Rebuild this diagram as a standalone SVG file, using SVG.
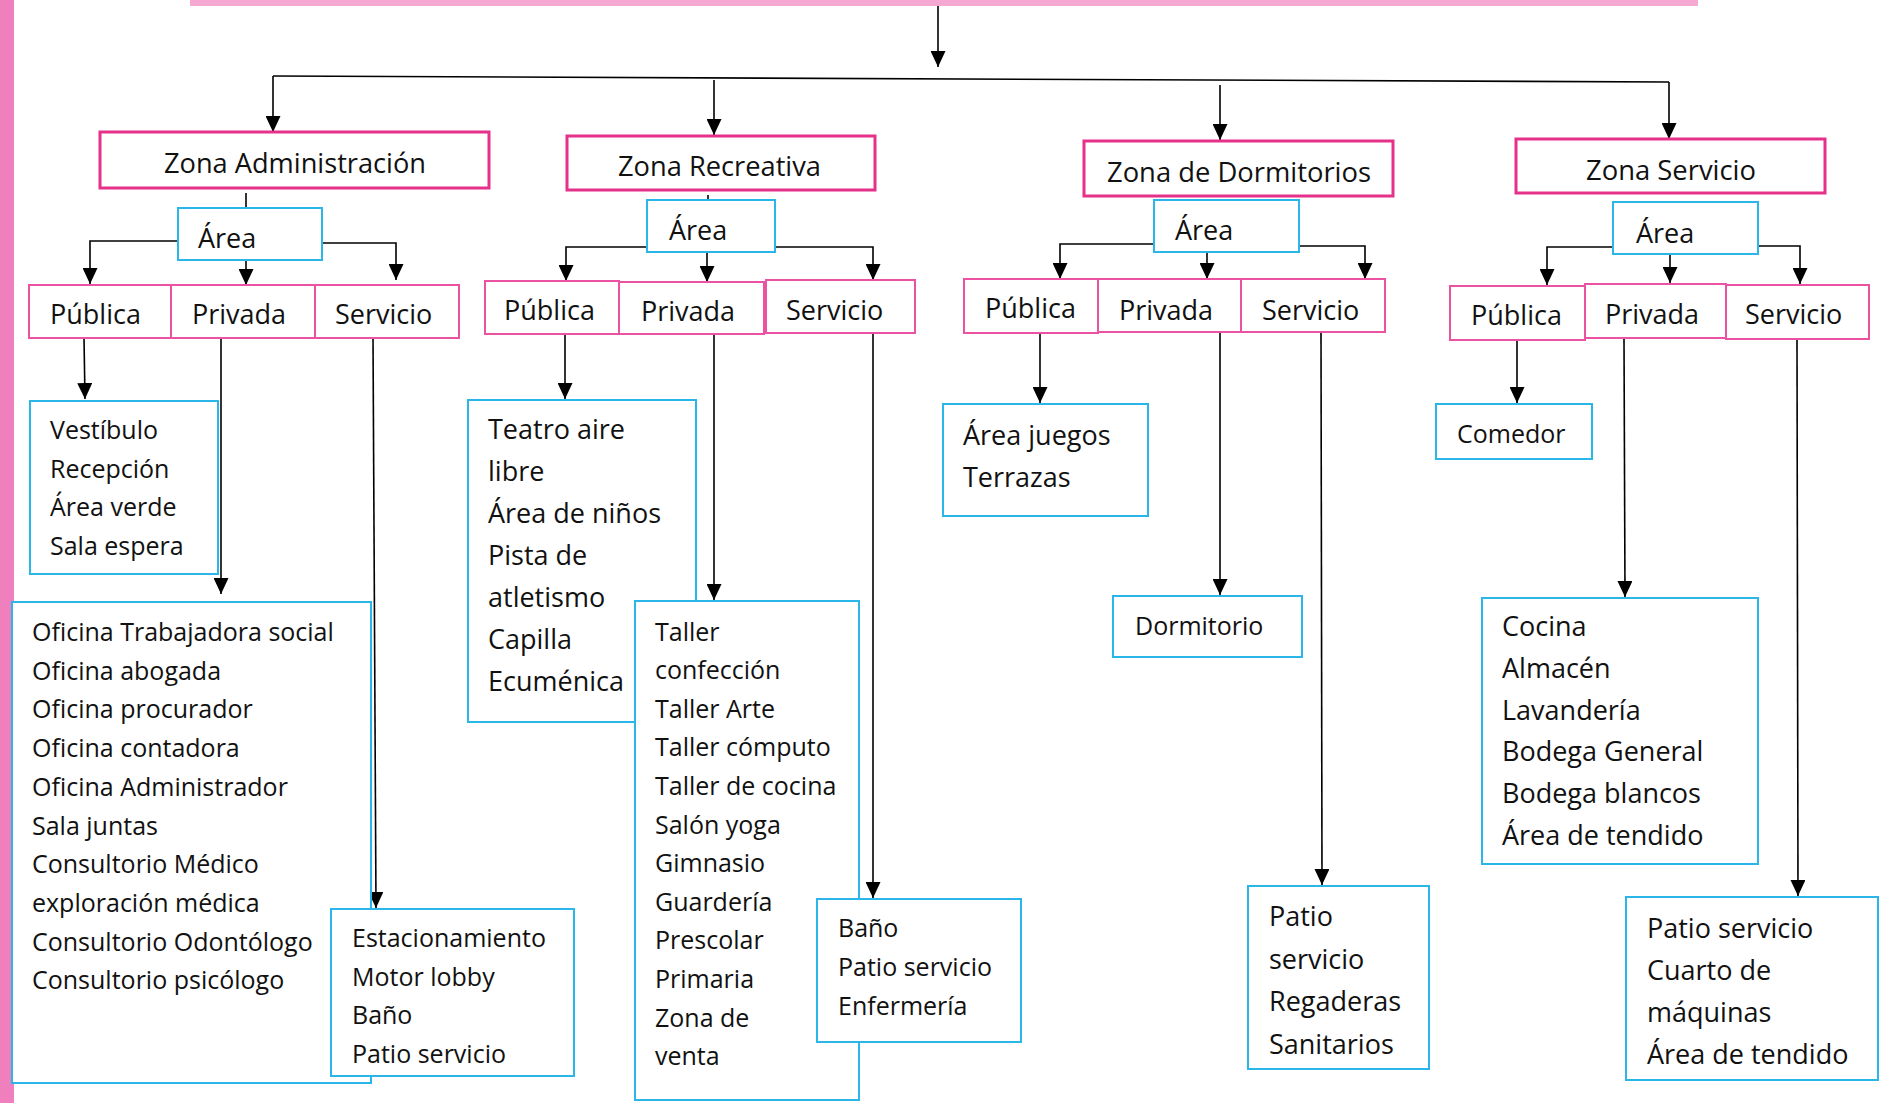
<svg xmlns="http://www.w3.org/2000/svg" width="1881" height="1103" viewBox="0 0 1881 1103">
  <defs>
    <marker id="arrow" viewBox="0 0 16 15" refX="16" refY="7.5" markerWidth="16" markerHeight="15" markerUnits="userSpaceOnUse" orient="auto">
      <path d="M0,0 L16,7.5 L0,15 z" fill="#000"/>
    </marker>
    <style>
      .zone { fill: #fff; stroke: #e6318b; stroke-width: 3; }
      .sub { fill: #fff; stroke: #ec52a2; stroke-width: 2; }
      .area { fill: #fff; stroke: #2bb6ea; stroke-width: 2; }
      .list { fill: #fff; stroke: #2bb6ea; stroke-width: 2; }
      .conn { fill: none; stroke: #000; stroke-width: 1.6; }
      .arr { marker-end: url(#arrow); }
      text { font-family: "Open Sans", "Noto Sans", "DejaVu Sans", sans-serif; fill: #111; }
      .t-zone { font-size: 28px; }
      .t-sub { font-size: 27px; }
      .t25 { font-size: 25px; }
      .t27 { font-size: 27px; }
    </style>
  </defs>

  <rect width="1881" height="1103" fill="#fff"/>

  <!-- page decorations -->
  <rect x="0" y="0" width="14" height="1103" fill="#f080bd"/>
  <rect x="190" y="0" width="1508" height="6" fill="#f4a8d2"/>

  <!-- connectors -->
  <g id="connectors" class="conn">
    <path class="arr" d="M938,6 L938,67"/>
    <path d="M273,76 L1669,82"/>
    <path class="arr" d="M273,76 L273,132"/>
    <path class="arr" d="M714,80 L714,135"/>
    <path class="arr" d="M1220,85 L1220,140"/>
    <path class="arr" d="M1669,82 L1669,139"/>

    <!-- Zona Administración -->
    <path d="M246,193 L246,208"/>
    <path class="arr" d="M178,241 L90,241 L90,284"/>
    <path class="arr" d="M246,260 L246,285"/>
    <path class="arr" d="M322,243 L396,243 L396,280"/>
    <path class="arr" d="M84,338 L85,399"/>
    <path class="arr" d="M221,338 L221,594"/>
    <path class="arr" d="M373,338 L376,908"/>

    <!-- Zona Recreativa -->
    <path d="M708,195 L708,200"/>
    <path class="arr" d="M647,247 L566,247 L566,281"/>
    <path class="arr" d="M707,252 L707,282"/>
    <path class="arr" d="M775,247 L873,247 L873,280"/>
    <path class="arr" d="M565,334 L565,399"/>
    <path class="arr" d="M714,334 L714,600"/>
    <path class="arr" d="M873,333 L873,898"/>

    <!-- Zona de Dormitorios -->
    <path class="arr" d="M1154,244 L1060,244 L1060,279"/>
    <path class="arr" d="M1207,252 L1207,279"/>
    <path class="arr" d="M1299,246 L1365,246 L1365,279"/>
    <path class="arr" d="M1040,333 L1040,403"/>
    <path class="arr" d="M1220,332 L1220,595"/>
    <path class="arr" d="M1321,332 L1322,885"/>

    <!-- Zona Servicio -->
    <path class="arr" d="M1613,247 L1547,247 L1547,285"/>
    <path class="arr" d="M1670,254 L1670,283"/>
    <path class="arr" d="M1758,246 L1800,246 L1800,284"/>
    <path class="arr" d="M1517,340 L1517,403"/>
    <path class="arr" d="M1624,338 L1625,597"/>
    <path class="arr" d="M1797,339 L1798,896"/>
  </g>

  <!-- ===== Zona Administración ===== -->
  <g id="zona-administracion">
    <rect class="zone" x="100" y="132" width="389" height="56"/>
    <text class="t-zone" x="164" y="173" textLength="262" lengthAdjust="spacingAndGlyphs">Zona Administración</text>
  </g>
  <g id="adm-area">
    <rect class="area" x="178" y="208" width="144" height="52"/>
    <text class="t-sub" x="198" y="248">Área</text>
  </g>
  <g id="adm-publica">
    <rect class="sub" x="29" y="285" width="142" height="53"/>
    <text class="t-sub" x="50" y="324">Pública</text>
  </g>
  <g id="adm-privada">
    <rect class="sub" x="171" y="285" width="144" height="53"/>
    <text class="t-sub" x="192" y="324">Privada</text>
  </g>
  <g id="adm-servicio">
    <rect class="sub" x="315" y="285" width="144" height="53"/>
    <text class="t-sub" x="335" y="324">Servicio</text>
  </g>
  <g id="adm-publica-list">
    <rect class="list" x="30" y="401" width="188" height="173"/>
    <text class="t25" x="50" y="439">Vestíbulo</text>
    <text class="t25" x="50" y="477.7">Recepción</text>
    <text class="t25" x="50" y="516.4">Área verde</text>
    <text class="t25" x="50" y="555">Sala espera</text>
  </g>
  <g id="adm-privada-list">
    <rect class="list" x="12" y="602" width="359" height="481"/>
    <text class="t25" x="32" y="641">Oficina Trabajadora social</text>
    <text class="t25" x="32" y="679.7">Oficina abogada</text>
    <text class="t25" x="32" y="718.4">Oficina procurador</text>
    <text class="t25" x="32" y="757.1">Oficina contadora</text>
    <text class="t25" x="32" y="795.8">Oficina Administrador</text>
    <text class="t25" x="32" y="834.5">Sala juntas</text>
    <text class="t25" x="32" y="873.2">Consultorio Médico</text>
    <text class="t25" x="32" y="911.9">exploración médica</text>
    <text class="t25" x="32" y="950.6">Consultorio Odontólogo</text>
    <text class="t25" x="32" y="989.3">Consultorio psicólogo</text>
  </g>
  <g id="adm-servicio-list">
    <rect class="list" x="331" y="909" width="243" height="167"/>
    <text class="t25" x="352" y="947">Estacionamiento</text>
    <text class="t25" x="352" y="985.5">Motor lobby</text>
    <text class="t25" x="352" y="1024">Baño</text>
    <text class="t25" x="352" y="1062.5">Patio servicio</text>
  </g>

  <!-- ===== Zona Recreativa ===== -->
  <g id="zona-recreativa">
    <rect class="zone" x="567" y="136" width="308" height="54"/>
    <text class="t-zone" x="618" y="176" textLength="203" lengthAdjust="spacingAndGlyphs">Zona Recreativa</text>
  </g>
  <g id="rec-area">
    <rect class="area" x="647" y="200" width="128" height="52"/>
    <text class="t-sub" x="669" y="240">Área</text>
  </g>
  <g id="rec-publica">
    <rect class="sub" x="485" y="281" width="134" height="53"/>
    <text class="t-sub" x="504" y="320">Pública</text>
  </g>
  <g id="rec-privada">
    <rect class="sub" x="619" y="282" width="145" height="52"/>
    <text class="t-sub" x="641" y="321">Privada</text>
  </g>
  <g id="rec-servicio">
    <rect class="sub" x="766" y="280" width="149" height="53"/>
    <text class="t-sub" x="786" y="320">Servicio</text>
  </g>
  <g id="rec-publica-list">
    <rect class="list" x="468" y="400" width="228" height="322"/>
    <text class="t27" x="488" y="439">Teatro aire</text>
    <text class="t27" x="488" y="481">libre</text>
    <text class="t27" x="488" y="523">Área de niños</text>
    <text class="t27" x="488" y="565">Pista de</text>
    <text class="t27" x="488" y="607">atletismo</text>
    <text class="t27" x="488" y="649">Capilla</text>
    <text class="t27" x="488" y="691">Ecuménica</text>
  </g>
  <g id="rec-privada-list">
    <rect class="list" x="635" y="601" width="224" height="499"/>
    <text class="t25" x="655" y="640.5">Taller</text>
    <text class="t25" x="655" y="679.1">confección</text>
    <text class="t25" x="655" y="717.7">Taller Arte</text>
    <text class="t25" x="655" y="756.3">Taller cómputo</text>
    <text class="t25" x="655" y="794.9">Taller de cocina</text>
    <text class="t25" x="655" y="833.5">Salón yoga</text>
    <text class="t25" x="655" y="872.1">Gimnasio</text>
    <text class="t25" x="655" y="910.7">Guardería</text>
    <text class="t25" x="655" y="949.3">Prescolar</text>
    <text class="t25" x="655" y="987.9">Primaria</text>
    <text class="t25" x="655" y="1026.5">Zona de</text>
    <text class="t25" x="655" y="1065.1">venta</text>
  </g>
  <g id="rec-servicio-list">
    <rect class="list" x="817" y="899" width="204" height="143"/>
    <text class="t25" x="838" y="936.5">Baño</text>
    <text class="t25" x="838" y="975.5">Patio servicio</text>
    <text class="t25" x="838" y="1014.5">Enfermería</text>
  </g>

  <!-- ===== Zona de Dormitorios ===== -->
  <g id="zona-dormitorios">
    <rect class="zone" x="1084" y="141" width="309" height="55"/>
    <text class="t-zone" x="1107" y="182" textLength="264" lengthAdjust="spacingAndGlyphs">Zona de Dormitorios</text>
  </g>
  <g id="dor-area">
    <rect class="area" x="1154" y="200" width="145" height="52"/>
    <text class="t-sub" x="1175" y="240">Área</text>
  </g>
  <g id="dor-publica">
    <rect class="sub" x="964" y="279" width="134" height="54"/>
    <text class="t-sub" x="985" y="318">Pública</text>
  </g>
  <g id="dor-privada">
    <rect class="sub" x="1098" y="279" width="143" height="53"/>
    <text class="t-sub" x="1119" y="320">Privada</text>
  </g>
  <g id="dor-servicio">
    <rect class="sub" x="1241" y="279" width="144" height="53"/>
    <text class="t-sub" x="1262" y="320">Servicio</text>
  </g>
  <g id="dor-publica-list">
    <rect class="list" x="943" y="404" width="205" height="112"/>
    <text class="t27" x="963" y="444.5">Área juegos</text>
    <text class="t27" x="963" y="487">Terrazas</text>
  </g>
  <g id="dor-privada-list">
    <rect class="list" x="1113" y="596" width="189" height="61"/>
    <text class="t25" x="1135" y="634.5">Dormitorio</text>
  </g>
  <g id="dor-servicio-list">
    <rect class="list" x="1248" y="886" width="181" height="183"/>
    <text class="t27" x="1269" y="926">Patio</text>
    <text class="t27" x="1269" y="968.7">servicio</text>
    <text class="t27" x="1269" y="1011.4">Regaderas</text>
    <text class="t27" x="1269" y="1054">Sanitarios</text>
  </g>

  <!-- ===== Zona Servicio ===== -->
  <g id="zona-servicio">
    <rect class="zone" x="1516" y="139" width="309" height="54"/>
    <text class="t-zone" x="1586" y="180" textLength="170" lengthAdjust="spacingAndGlyphs">Zona Servicio</text>
  </g>
  <g id="ser-area">
    <rect class="area" x="1613" y="202" width="145" height="52"/>
    <text class="t-sub" x="1636" y="243">Área</text>
  </g>
  <g id="ser-publica">
    <rect class="sub" x="1450" y="286" width="135" height="54"/>
    <text class="t-sub" x="1471" y="325">Pública</text>
  </g>
  <g id="ser-privada">
    <rect class="sub" x="1585" y="284" width="141" height="54"/>
    <text class="t-sub" x="1605" y="324">Privada</text>
  </g>
  <g id="ser-servicio">
    <rect class="sub" x="1726" y="285" width="143" height="54"/>
    <text class="t-sub" x="1745" y="324">Servicio</text>
  </g>
  <g id="ser-publica-list">
    <rect class="list" x="1436" y="404" width="156" height="55"/>
    <text class="t25" x="1457" y="443">Comedor</text>
  </g>
  <g id="ser-privada-list">
    <rect class="list" x="1482" y="598" width="276" height="266"/>
    <text class="t27" x="1502" y="636">Cocina</text>
    <text class="t27" x="1502" y="677.8">Almacén</text>
    <text class="t27" x="1502" y="719.6">Lavandería</text>
    <text class="t27" x="1502" y="761.4">Bodega General</text>
    <text class="t27" x="1502" y="803.2">Bodega blancos</text>
    <text class="t27" x="1502" y="845">Área de tendido</text>
  </g>
  <g id="ser-servicio-list">
    <rect class="list" x="1626" y="897" width="252" height="183"/>
    <text class="t27" x="1647" y="938">Patio servicio</text>
    <text class="t27" x="1647" y="980">Cuarto de</text>
    <text class="t27" x="1647" y="1022">máquinas</text>
    <text class="t27" x="1647" y="1064">Área de tendido</text>
  </g>
</svg>
